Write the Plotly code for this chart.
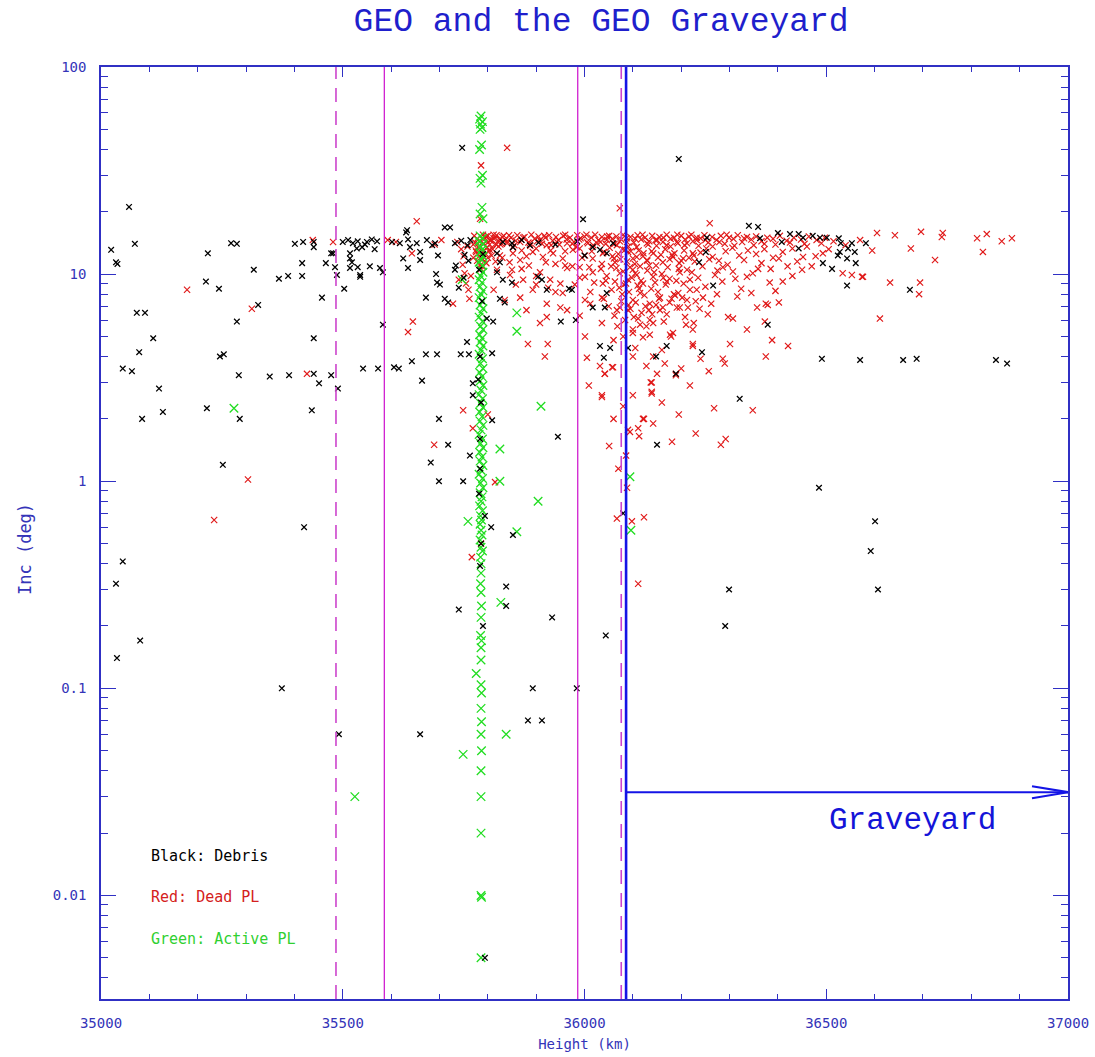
import plotly.graph_objects as go

# ---------------------------------------------------------------
# Objects near the geostationary ring: height (km) vs inclination (deg)
# ---------------------------------------------------------------

debris = [
    (35021, 13.1), (35031, 11.4), (35034, 11.2), (35058, 21.1), (35070, 14.0), (35221, 12.6),
    (35269, 14.1), (35281, 14.0), (35316, 10.5), (35368, 9.5), (35387, 9.8), (35401, 14.0),
    (35416, 11.3), (35416, 9.8), (35418, 14.3), (35440, 14.3), (35440, 13.5), (35457, 7.7),
    (35465, 11.3), (35476, 12.6),
    (35045, 3.5), (35064, 3.4), (35074, 6.5), (35091, 6.5), (35079, 4.2), (35108, 4.9),
    (35120, 2.8), (35128, 2.16), (35085, 2.0), (35219, 2.25), (35287, 2.0), (35246, 4.0),
    (35254, 4.1), (35285, 3.25), (35281, 5.9), (35325, 7.1), (35349, 3.2), (35389, 3.25),
    (35440, 3.3), (35451, 2.97), (35440, 4.9), (35476, 3.25), (35490, 2.8), (35436, 2.2),
    (35252, 1.2), (35244, 8.5), (35217, 9.2),
    (35420, 0.6), (35045, 0.41), (35031, 0.32), (35081, 0.17), (35033, 0.14), (35374, 0.1),
    (35492, 0.06), (35660, 0.06),
    (35500, 14.3), (35511, 14.6), (35521, 14.1), (35531, 14.4), (35540, 13.5), (35550, 14.3),
    (35560, 14.7), (35571, 14.4), (35529, 13.3), (35515, 12.6), (35519, 11.4), (35515, 10.7),
    (35536, 9.9), (35556, 10.9), (35577, 10.7), (35583, 10.2), (35488, 9.9), (35503, 8.5),
    (35480, 12.6), (35484, 10.8), (35515, 11.9), (35531, 10.8), (35536, 9.7), (35546, 13.9),
    (35566, 13.2),
    (35602, 14.3), (35618, 14.1), (35635, 14.7), (35633, 16.3), (35639, 13.5), (35653, 14.1),
    (35660, 12.8), (35625, 11.9), (35635, 10.7), (35660, 11.7), (35674, 14.6), (35685, 13.8),
    (35691, 14.1), (35697, 12.3), (35711, 16.8), (35722, 16.8), (35732, 14.1), (35734, 11.0),
    (35693, 10.0), (35695, 9.1), (35701, 8.9), (35672, 7.7), (35711, 7.6), (35718, 7.3),
    (35732, 10.5), (35631, 15.9), (35745, 14.5), (35758, 13.8), (35764, 14.6), (35752, 12.4),
    (35760, 11.6), (35740, 8.6), (35750, 9.6),
    (35542, 3.5), (35573, 3.5), (35606, 3.55), (35616, 3.5), (35643, 3.8), (35664, 3.06),
    (35672, 4.1), (35695, 4.1), (35583, 5.7), (35744, 4.1), (35761, 4.1), (35757, 4.7),
    (35769, 2.97), (35769, 2.6), (35809, 4.15), (35811, 5.9), (35798, 6.1), (35951, 5.9),
    (35982, 6.0),
    (35699, 2.0), (35718, 1.5), (35682, 1.23), (35763, 1.33), (35809, 1.97), (35945, 1.64),
    (35784, 1.15), (35699, 1.0), (35749, 1.0), (35782, 0.87), (35794, 0.68), (35807, 0.6),
    (35852, 0.55), (35786, 0.5), (35784, 0.39), (35838, 0.31), (35838, 0.25), (35740, 0.24),
    (35933, 0.22), (35790, 0.2), (35893, 0.1), (35883, 0.07), (35912, 0.07), (35984, 0.1),
    (35794, 0.005), (36044, 0.18), (35747, 40.7), (35997, 18.4),
    (35784, 4.0), (35788, 7.4), (35782, 10.5), (35790, 12.5), (35786, 2.4), (35784, 1.6),
    (35780, 3.1),
    (35831, 14.3), (35850, 14.1), (35852, 13.5), (35819, 12.6), (35825, 11.4), (35819, 10.2),
    (35831, 9.4), (35850, 9.1), (35887, 13.8), (35904, 9.7), (35912, 9.4), (35825, 7.6),
    (35835, 7.3), (35922, 8.4), (35968, 8.5), (35974, 8.4), (36017, 13.5), (36032, 13.1),
    (36046, 12.6), (36046, 8.1), (36017, 6.9), (36042, 6.9), (36059, 14.1), (35870, 14.6),
    (35905, 14.2), (35940, 13.9), (35985, 14.4), (36000, 12.3),
    (36032, 4.5), (36053, 4.4), (36040, 3.95), (36090, 4.4), (36148, 4.0), (36170, 4.5),
    (36189, 3.3), (36243, 4.2), (36379, 5.7), (36321, 2.5), (36150, 1.5), (36080, 0.7),
    (36340, 17.1), (36359, 16.9), (36363, 14.9), (36408, 14.3), (36400, 15.8), (36425, 15.6),
    (36443, 15.6), (36452, 15.0), (36472, 15.3), (36487, 15.0), (36501, 15.0), (36443, 13.3),
    (36493, 11.3), (36512, 10.6), (36526, 14.9), (36530, 14.1), (36528, 12.8), (36524, 12.3),
    (36545, 13.3), (36559, 12.8), (36553, 14.1), (36543, 11.9), (36561, 11.3), (36582, 14.1),
    (36543, 8.8), (36673, 8.4), (36253, 15.0), (36251, 12.8), (36237, 11.4), (36266, 8.8),
    (36491, 3.9), (36570, 3.85), (36659, 3.85), (36687, 3.9), (36851, 3.85), (36874, 3.7),
    (36485, 0.93), (36601, 0.64), (36592, 0.46), (36299, 0.3), (36291, 0.2), (36607, 0.3),
    (36195, 36.0),
]

dead_sparse = [
    (35178, 8.4), (35438, 14.6), (35480, 14.3), (35426, 3.3), (35312, 6.8), (35304, 1.02),
    (35234, 0.65), (35593, 14.6), (35653, 18.0), (35643, 12.6), (35610, 14.3), (35690, 13.9),
    (35704, 14.6), (35635, 5.25), (35645, 5.9), (35728, 7.2), (35749, 2.2), (35689, 1.5),
    (35800, 2.1), (35769, 1.8), (35815, 0.99), (35767, 0.43), (35786, 0.5), (35840, 40.7),
    (35786, 33.5), (35784, 18.5), (36073, 20.8),
    (35737, 14.3), (35745, 13.2), (35750, 12.2), (35752, 10.1), (35755, 9.0), (35760, 8.4),
    (35762, 7.6), (35748, 11.1), (35758, 13.6), (35765, 9.8), (35740, 9.4),
]

dead_wedge = [
    (35772, 15.3), (35778, 14.8), (35774, 14.2), (35780, 13.5), (35776, 12.8), (35782, 12.2),
    (35778, 11.6), (35784, 11.0), (35790, 15.5), (35795, 14.9), (35800, 15.3), (35806, 14.5),
    (35812, 14.9), (35818, 15.4), (35824, 14.7), (35830, 15.1), (35836, 14.6), (35792, 14.0),
    (35798, 13.4), (35804, 13.9), (35810, 13.2), (35816, 14.0), (35822, 13.6), (35796, 12.5),
    (35802, 12.9), (35808, 12.3), (35790, 11.8), (35797, 11.3), (35786, 10.6), (35792, 13.0),
    (35785, 14.4), (35788, 12.6), (35800, 12.0), (35826, 13.9), (35770, 13.9), (35775, 13.0),
    (35770, 12.0), (35788, 10.9),
]

dead_band = [
    (35796, 15.2), (35805, 14.6), (35812, 15.5), (35818, 13.9), (35826, 14.8), (35833, 15.3),
    (35840, 14.4), (35848, 15.0), (35855, 13.8), (35861, 15.4), (35869, 14.7), (35876, 15.1),
    (35884, 14.2), (35890, 15.5), (35897, 14.8), (35905, 15.2), (35912, 14.0), (35919, 15.0),
    (35927, 15.4), (35934, 14.5), (35941, 15.1), (35948, 13.9), (35956, 15.3), (35963, 14.7),
    (35970, 15.0), (35978, 14.3), (35985, 15.4), (35992, 14.9), (36000, 15.2), (36007, 14.1),
    (36014, 15.0), (36022, 15.5), (36029, 14.6), (36036, 15.1), (36044, 14.0), (36051, 15.3),
    (36058, 14.8), (36066, 15.2), (36073, 14.4), (36080, 15.5), (36087, 14.9), (36095, 15.1),
    (36102, 14.2), (36110, 15.4), (36117, 14.7), (36125, 15.0), (36132, 13.9), (36140, 15.3),
    (36147, 14.6), (36155, 15.1), (36162, 14.3), (36170, 15.5), (36178, 14.8), (36185, 15.0),
    (36193, 14.1), (36200, 15.3), (36208, 14.7), (36216, 15.2), (36224, 14.4), (36232, 15.0),
    (36240, 14.9), (36248, 15.4), (36256, 14.2), (36264, 15.1), (36273, 14.6), (36282, 15.3),
    (36290, 14.0), (36299, 15.0), (36308, 14.8), (36317, 15.4), (36326, 14.3), (36336, 15.1),
    (36345, 14.7), (36355, 15.2), (36366, 14.4), (36378, 15.0), (36390, 14.8), (36404, 15.3),
    (36418, 14.5), (36433, 15.0), (36448, 14.7), (36464, 15.2), (36480, 14.6), (36497, 15.0),
    (36515, 14.4),
    (35800, 14.2), (35815, 15.0), (35829, 14.0), (35844, 15.4), (35858, 14.5), (35873, 15.0),
    (35888, 13.7), (35902, 14.4), (35917, 15.3), (35931, 13.8), (35946, 14.6), (35960, 15.5),
    (35975, 14.0), (35989, 14.7), (36004, 15.5), (36018, 13.8), (36033, 14.3), (36047, 15.2),
    (36062, 14.0), (36076, 14.7), (36091, 13.6), (36105, 14.8), (36120, 15.5), (36134, 14.4),
    (36149, 13.7), (36163, 15.0), (36178, 13.6), (36192, 15.5), (36207, 13.8), (36221, 15.5),
    (36236, 13.7), (36250, 14.6), (36265, 13.6), (36279, 14.3), (36294, 15.5), (36310, 13.7),
    (36330, 14.9), (36350, 13.8), (36372, 14.0), (36395, 13.9), (36425, 14.2), (36455, 14.0),
    (36490, 14.1),
]

dead_scatter = [
    (35840, 14.1), (35852, 13.5), (35867, 14.3), (35887, 14.1), (35908, 14.6), (35922, 13.8),
    (35943, 14.3), (35964, 14.1), (35984, 13.5), (36005, 14.3), (36026, 14.1), (36046, 14.6),
    (36067, 13.8), (36088, 14.3), (36108, 13.5), (36129, 14.1), (36150, 14.6), (36170, 13.8),
    (36191, 14.3), (36212, 14.1), (36232, 14.6),
    (35804, 13.1), (35825, 12.3), (35852, 12.6), (35867, 11.7), (35893, 12.8), (35914, 12.1),
    (35935, 12.6), (35955, 11.9), (35976, 13.1), (36001, 12.3), (36017, 11.9), (36038, 12.6),
    (36063, 11.4), (36084, 13.1), (36094, 10.8), (36108, 12.1), (36129, 11.7), (36142, 12.6),
    (36162, 11.4), (36183, 12.1), (36204, 11.9), (36224, 12.6),
    (35819, 10.5), (35846, 9.9), (35873, 9.4), (35908, 10.2), (35929, 9.4), (35964, 10.7),
    (36001, 9.7), (36017, 10.2), (36038, 9.0), (36073, 10.1), (36090, 9.4), (36100, 10.5),
    (36121, 9.0), (36142, 9.7), (36170, 9.2), (36197, 10.2), (36218, 9.4),
    (35835, 7.5), (35867, 7.7), (35893, 8.4), (35922, 7.2), (35955, 8.1), (35964, 6.7),
    (36001, 7.5), (36036, 7.7), (36073, 6.9), (36100, 7.5), (36115, 8.1), (36135, 7.2),
    (36156, 7.7), (36191, 6.9), (36212, 7.5), (36232, 8.4),
    (35908, 5.8), (35922, 6.2), (36001, 5.0), (36036, 5.8), (36067, 6.7), (36100, 5.4),
    (36135, 6.0), (36156, 6.7), (36183, 5.2), (36224, 5.4),
    (35883, 4.6), (35924, 4.6), (35918, 4.0), (36005, 3.95), (36032, 3.6), (36042, 3.3),
    (36059, 3.55), (36009, 2.9), (36036, 2.6), (36137, 3.0), (36139, 2.7), (36179, 5.0),
    (36224, 4.6), (36189, 3.25),
    (35995, 12.0), (36010, 10.8), (36020, 9.1), (36012, 8.2), (35990, 9.6), (35975, 10.9),
    (35950, 9.0), (35940, 11.2), (35925, 8.6), (35900, 9.8), (35885, 11.0), (35870, 10.6),
    (35858, 8.9), (35845, 11.4), (35830, 12.0), (35816, 11.5), (35812, 8.4),
    (35870, 13.0), (35900, 13.3), (35930, 13.0), (35960, 12.9), (35990, 13.3), (36015, 12.9),
    (35880, 12.2), (35920, 11.4), (35960, 11.0), (35990, 10.8), (35850, 10.5), (35900, 8.9),
    (35940, 8.2), (35980, 8.9), (36012, 7.2), (35880, 6.7), (35950, 6.9), (35990, 6.3),
]

dead_graveyard = [
    (36259, 17.6), (36605, 15.8), (36642, 15.4), (36696, 16.0), (36741, 15.8), (36739, 15.1),
    (36812, 14.9), (36832, 15.6), (36863, 14.4), (36884, 14.9), (36675, 13.3), (36824, 12.8),
    (36725, 11.7), (36632, 9.1), (36694, 9.1), (36692, 8.0), (36611, 6.1), (36574, 9.7),
    (36576, 9.7), (36553, 9.9), (36534, 10.1), (36450, 10.5), (36452, 12.1), (36493, 12.6),
    (36410, 9.2), (36383, 9.1), (36402, 7.3), (36379, 7.1), (36375, 7.2), (36357, 6.9),
    (36324, 8.5), (36336, 9.7), (36359, 10.6), (36307, 10.3), (36286, 10.8), (36245, 7.7),
    (36226, 5.8), (36297, 6.2), (36307, 6.1), (36336, 5.4), (36373, 5.9), (36388, 4.8),
    (36421, 4.5), (36375, 4.0), (36301, 4.6), (36286, 3.9), (36290, 3.7), (36257, 3.4),
    (36268, 2.25), (36348, 2.2), (36282, 1.5), (36292, 1.6), (36224, 4.5), (36189, 3.3),
    (36166, 3.7), (36142, 4.0), (36139, 3.0), (36139, 2.65), (36121, 2.0), (36142, 1.9),
    (36111, 1.8), (36113, 1.65), (36090, 1.77), (36181, 1.55), (36100, 4.0), (36051, 1.48),
    (36036, 2.55), (36042, 3.3), (36057, 3.55), (36100, 5.2), (36121, 4.95), (36135, 5.1),
    (36177, 5.1), (36142, 5.8), (36115, 5.7), (36111, 6.1), (36133, 6.7), (36162, 6.9),
    (36197, 6.9), (36214, 6.9), (36090, 6.7), (36218, 8.4), (36187, 7.9), (36202, 7.7),
    (36040, 12.8), (36052, 13.4), (36061, 11.9), (36070, 12.5), (36079, 13.2), (36088, 11.5),
    (36096, 12.9), (36104, 11.2), (36112, 13.0), (36121, 12.2), (36130, 11.6), (36139, 12.9),
    (36148, 11.0), (36158, 12.4), (36167, 13.2), (36176, 11.8), (36186, 12.6), (36196, 11.3),
    (36206, 13.0), (36216, 12.0), (36228, 11.5), (36240, 12.7), (36252, 13.3), (36265, 12.1),
    (36278, 11.6), (36292, 12.9), (36306, 13.4), (36320, 12.3), (36338, 13.0), (36355, 12.5),
    (36372, 13.2), (36390, 12.0), (36410, 12.8), (36430, 13.3),
    (36034, 10.6), (36046, 9.8), (36055, 10.9), (36063, 9.2), (36072, 8.6), (36080, 10.3),
    (36086, 9.0), (36092, 8.2), (36098, 9.6), (36105, 10.1), (36110, 8.8), (36117, 9.3),
    (36124, 7.9), (36130, 10.4), (36138, 8.5), (36146, 9.1), (36154, 7.6), (36160, 10.0),
    (36168, 8.9), (36176, 9.5), (36185, 8.0), (36195, 10.6), (36205, 9.0), (36222, 10.2),
    (36235, 9.6), (36250, 8.7), (36270, 9.9), (36285, 9.2),
    (36050, 7.0), (36062, 6.3), (36076, 7.4), (36084, 6.0), (36095, 6.8), (36106, 7.3),
    (36118, 6.5), (36128, 5.6), (36148, 7.1), (36170, 6.4), (36180, 7.6), (36208, 6.2),
    (36238, 6.8), (36262, 7.2),
    (36036, 11.2), (36044, 9.3), (36058, 12.2), (36066, 10.7), (36074, 11.8), (36082, 8.9),
    (36090, 12.8), (36100, 11.9), (36108, 9.9), (36115, 10.9), (36122, 12.6), (36134, 11.0),
    (36144, 10.2), (36152, 12.0), (36163, 9.6), (36172, 10.8), (36181, 12.4), (36190, 9.3),
    (36200, 11.6), (36212, 10.5), (36226, 12.3), (36244, 10.9), (36258, 11.8), (36275, 10.4),
    (36296, 11.1), (36312, 9.5), (36330, 11.7), (36348, 10.1), (36366, 11.3), (36385, 10.6),
    (36402, 11.9), (36420, 10.9), (36440, 11.5), (36460, 13.6), (36478, 12.2), (36505, 13.2),
    (36540, 13.8), (36570, 14.6), (36595, 13.0),
    (36040, 7.6), (36056, 8.4), (36068, 5.6), (36078, 8.0), (36091, 7.1), (36102, 6.2),
    (36113, 8.5), (36126, 7.0), (36140, 6.4), (36152, 8.2), (36164, 5.9), (36176, 7.3),
    (36194, 8.1), (36210, 5.7), (36230, 7.4), (36255, 6.4), (36274, 8.0), (36316, 7.8),
    (36345, 8.1), (36395, 8.3), (36430, 9.8), (36470, 10.9),
    (36060, 4.8), (36080, 5.0), (36105, 4.4), (36128, 3.6), (36150, 3.3), (36160, 4.3),
    (36200, 3.5), (36218, 2.9), (36240, 3.9), (36160, 2.4), (36195, 2.1), (36080, 2.3),
    (36100, 2.6), (36230, 1.7), (36060, 2.0),
    (36111, 0.32), (36123, 0.67), (36098, 0.64), (36067, 0.66), (36088, 0.93), (36070, 1.15),
    (36086, 1.33), (36094, 1.73), (36123, 2.0),
]

active = [
    (35786, 58), (35783, 56), (35789, 54.5), (35785, 53), (35788, 51), (35784, 50),
    (35787, 42), (35783, 40), (35789, 30), (35784, 29), (35786, 27.5), (35788, 21),
    (35784, 19.5), (35790, 18.5),
    (35784, 15.3), (35789, 14.9), (35782, 14.4), (35790, 14.0), (35785, 13.6), (35788, 13.1),
    (35783, 12.7), (35790, 12.2), (35786, 11.8), (35782, 11.4), (35789, 11.0), (35784, 10.6),
    (35790, 10.2), (35785, 9.8), (35782, 9.4), (35788, 9.1), (35784, 8.7), (35790, 8.3),
    (35786, 8.0), (35782, 7.7), (35789, 7.4), (35784, 7.1), (35790, 6.8), (35786, 6.5),
    (35782, 6.2), (35789, 5.9), (35785, 5.6), (35790, 5.4), (35783, 5.1), (35788, 4.9),
    (35784, 4.7), (35790, 4.5), (35786, 4.3), (35782, 4.1), (35789, 3.9), (35785, 3.7),
    (35790, 3.5), (35783, 3.35), (35788, 3.2), (35784, 3.05), (35790, 2.9), (35786, 2.75),
    (35782, 2.62), (35789, 2.5), (35785, 2.38), (35790, 2.27), (35783, 2.16), (35788, 2.05),
    (35784, 1.95), (35790, 1.86), (35786, 1.77), (35782, 1.68), (35789, 1.6), (35785, 1.52),
    (35790, 1.45), (35783, 1.38), (35788, 1.31), (35784, 1.25), (35790, 1.19), (35786, 1.13),
    (35782, 1.08), (35789, 1.03), (35785, 0.98), (35790, 0.93), (35784, 0.88), (35788, 0.84),
    (35786, 0.8), (35783, 0.76), (35789, 0.72), (35785, 0.68), (35787, 0.65), (35784, 0.62),
    (35786, 0.58), (35788, 0.55), (35784, 0.52), (35786, 0.48), (35789, 0.46), (35785, 0.43),
    (35786, 0.40), (35786, 0.36), (35785, 0.32), (35786, 0.29), (35787, 0.25), (35786, 0.22),
    (35785, 0.18), (35787, 0.17), (35786, 0.157), (35786, 0.137), (35776, 0.118), (35786, 0.104),
    (35787, 0.095), (35786, 0.08), (35787, 0.069), (35786, 0.06), (35787, 0.05), (35786, 0.04),
    (35786, 0.03), (35786, 0.02), (35786, 0.01), (35787, 0.0098), (35786, 0.005),
    (35275, 2.25), (35747, 9.4), (35860, 6.5), (35860, 5.3), (35910, 2.3), (35825, 1.43),
    (35825, 1.0), (35904, 0.8), (35759, 0.64), (35860, 0.57), (35827, 0.26), (35838, 0.06),
    (35749, 0.048), (35525, 0.03), (36094, 1.05), (36096, 0.58),
]

# Reference heights (km)
GEO_INNER_DASH = 35486
GEO_INNER = 35586
GEO_OUTER = 35986
GEO_OUTER_DASH = 36076
GRAVEYARD_START = 36086
GRAVEYARD_ARROW_INC = 0.0315

x_ticks = [35000, 35500, 36000, 36500, 37000]
y_ticks = [0.01, 0.1, 1, 10, 100]
y_tick_text = ["0.01", "0.1", "1", "10", "100"]

AXIS_BLUE = "#3030c4"
TEXT_BLUE = "#3434b8"
ARROW_BLUE = "#1414e6"
MONO = "DejaVu Sans Mono"

dead = dead_sparse + dead_wedge + dead_band + dead_scatter + dead_graveyard

fig = go.Figure()


def add_series(points, colour, size, width):
    fig.add_trace(go.Scatter(
        x=[p[0] for p in points], y=[p[1] for p in points],
        mode="markers",
        marker=dict(symbol="x-thin", size=size, line=dict(width=width, color=colour)),
        showlegend=False, hoverinfo="x+y",
    ))


add_series(dead, "#e01818", 6.2, 1.15)
add_series(active, "#22dd22", 8.5, 1.3)
add_series(debris, "#000000", 5.6, 1.3)

shapes = []
for xv in (GEO_INNER_DASH, GEO_OUTER_DASH):
    shapes.append(dict(type="line", xref="x", yref="paper", x0=xv, x1=xv, y0=0, y1=1,
                       line=dict(color="#cc44cc", width=1.6, dash="14px,9px")))
for xv in (GEO_INNER, GEO_OUTER):
    shapes.append(dict(type="line", xref="x", yref="paper", x0=xv, x1=xv, y0=0, y1=1,
                       line=dict(color="#d020d0", width=1.3)))
shapes.append(dict(type="line", xref="x", yref="paper", x0=GRAVEYARD_START, x1=GRAVEYARD_START,
                   y0=0, y1=1, line=dict(color=ARROW_BLUE, width=2.6)))
shapes.append(dict(type="line", xref="x", yref="y", x0=GRAVEYARD_START, x1=37000,
                   y0=GRAVEYARD_ARROW_INC, y1=GRAVEYARD_ARROW_INC,
                   line=dict(color=ARROW_BLUE, width=2.2)))
# open arrow head: two barbs, 36 px long, spreading ~6 px either side of the shaft
head_spread = 10 ** (6 / 207)
for yv in (GRAVEYARD_ARROW_INC * head_spread, GRAVEYARD_ARROW_INC / head_spread):
    shapes.append(dict(type="line", xref="x", yref="y",
                       xsizemode="pixel", xanchor=37000, x0=-36, x1=0,
                       y0=yv, y1=GRAVEYARD_ARROW_INC,
                       line=dict(color=ARROW_BLUE, width=2.2)))

minor_y = [m * 10 ** e for e in range(-3, 2) for m in range(2, 10) if 0.0031 < m * 10 ** e < 100]
minor_x = [v for v in range(35100, 37000, 100) if v % 500]

annotations = [
    dict(text="Graveyard", xref="x", yref="y", x=36679, y=-1.638, showarrow=False,
         font=dict(family="Liberation Mono", size=31, color="#1414d8")),
    dict(text="Inc (deg)", xref="paper", yref="paper", x=-0.0786, y=0.4828,
         textangle=-90, showarrow=False, xanchor="center", yanchor="middle",
         font=dict(family=MONO, size=17, color=TEXT_BLUE)),
    dict(text="Black: Debris", xref="paper", yref="paper", x=0.0496, y=0.1534,
         xanchor="left", yanchor="middle", showarrow=False,
         font=dict(family=MONO, size=15, color="#000000")),
    dict(text="Red: Dead PL", xref="paper", yref="paper", x=0.0496, y=0.1094,
         xanchor="left", yanchor="middle", showarrow=False,
         font=dict(family=MONO, size=15, color="#d42020")),
    dict(text="Green: Active PL", xref="paper", yref="paper", x=0.0496, y=0.0644,
         xanchor="left", yanchor="middle", showarrow=False,
         font=dict(family=MONO, size=15, color="#30d030")),
]

fig.update_layout(
    width=1095, height=1057,
    margin=dict(l=101, r=27, t=67, b=58, autoexpand=False),
    paper_bgcolor="white", plot_bgcolor="white",
    title=dict(text="GEO and the GEO Graveyard", x=0.549, xanchor="center",
               y=0.982, yanchor="middle",
               font=dict(family="Liberation Mono", size=33, color="#1f1fcc")),
    shapes=shapes, annotations=annotations,
    xaxis=dict(
        range=[35000, 37000], showgrid=False, zeroline=False,
        showline=True, linecolor=AXIS_BLUE, linewidth=1.5, mirror="allticks",
        ticks="inside", ticklen=10, tickwidth=1.3, tickcolor=AXIS_BLUE,
        tickvals=x_ticks, ticktext=[str(v) for v in x_ticks],
        tickfont=dict(family=MONO, size=14, color=TEXT_BLUE), ticklabelstandoff=10,
        minor=dict(ticks="inside", ticklen=5, tickwidth=1.2, tickcolor=AXIS_BLUE,
                   tickvals=minor_x, showgrid=False),
        title=dict(text="Height (km)", standoff=10,
                   font=dict(family=MONO, size=14, color=TEXT_BLUE)),
    ),
    yaxis=dict(
        type="log", range=[-2.5, 2], showgrid=False, zeroline=False,
        showline=True, linecolor=AXIS_BLUE, linewidth=1.5, mirror="allticks",
        ticks="inside", ticklen=15, tickwidth=1.3, tickcolor=AXIS_BLUE,
        tickvals=y_ticks, ticktext=y_tick_text,
        tickfont=dict(family=MONO, size=14, color=TEXT_BLUE), ticklabelstandoff=10,
        minor=dict(ticks="inside", ticklen=7, tickwidth=1.2, tickcolor=AXIS_BLUE,
                   tickvals=minor_y, showgrid=False),
    ),
)

fig.write_html("out.html")
